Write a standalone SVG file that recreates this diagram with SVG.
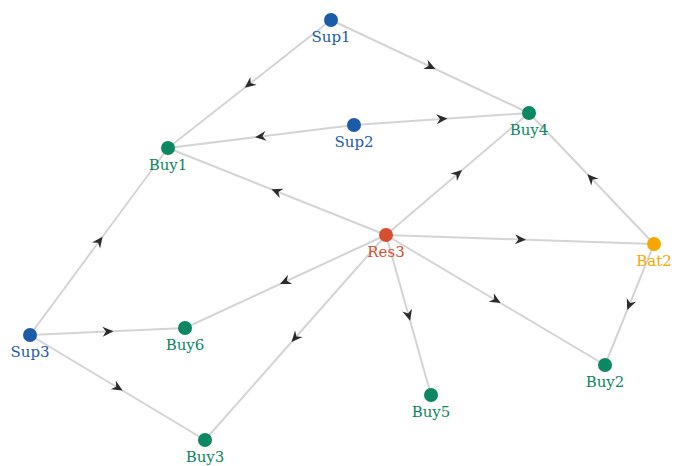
<svg xmlns="http://www.w3.org/2000/svg" width="681" height="466" viewBox="0 0 681 466">
<defs>
<marker id="arr" markerWidth="13" markerHeight="11" refX="5" refY="0" viewBox="-1 -5.5 13 11" orient="auto" markerUnits="userSpaceOnUse">
<path d="M0,-5 L11,0 L0,5 L3.5,0 Z" fill="#2b2b2b"/>
</marker>
</defs>
<style>
.e{fill:none;stroke:#d4d4d4;stroke-width:2;marker-mid:url(#arr)}
text{font-family:"DejaVu Serif","Liberation Serif",serif;font-size:15px;text-anchor:middle}
.sup circle{fill:#1c5ba8}.sup text{fill:#1c5ba8}
.buy circle{fill:#0b8763}.buy text{fill:#0b8763}
.res circle{fill:#d6502f}.res text{fill:#d6502f}
.bat circle{fill:#f7a800}.bat text{fill:#f7a800}
</style>
<rect width="681" height="466" fill="#ffffff"/>
<g id="edges">
<polyline class="e" points="331,20 249.5,84 168,148"/>
<polyline class="e" points="331,20 430,66.5 529,113"/>
<polyline class="e" points="354,125 261,136.5 168,148"/>
<polyline class="e" points="354,125 441.5,119 529,113"/>
<polyline class="e" points="386,235 277,191.5 168,148"/>
<polyline class="e" points="386,235 457.5,174 529,113"/>
<polyline class="e" points="386,235 520,239.5 654,244"/>
<polyline class="e" points="654,244 591.5,178.5 529,113"/>
<polyline class="e" points="654,244 629.5,304.5 605,365"/>
<polyline class="e" points="386,235 495.5,300 605,365"/>
<polyline class="e" points="386,235 408.5,315 431,395"/>
<polyline class="e" points="386,235 285.5,281.5 185,328"/>
<polyline class="e" points="386,235 295.5,337.5 205,440"/>
<polyline class="e" points="30,335 99,241.5 168,148"/>
<polyline class="e" points="30,335 107.5,331.5 185,328"/>
<polyline class="e" points="30,335 117.5,387.5 205,440"/>
</g>
<g id="Sup1" class="sup"><circle cx="331" cy="20" r="7"/><text x="331" y="42">Sup1</text></g>
<g id="Sup2" class="sup"><circle cx="354" cy="125" r="7"/><text x="354" y="147">Sup2</text></g>
<g id="Sup3" class="sup"><circle cx="30" cy="335" r="7"/><text x="30" y="357">Sup3</text></g>
<g id="Buy1" class="buy"><circle cx="168" cy="148" r="7"/><text x="168" y="170">Buy1</text></g>
<g id="Buy4" class="buy"><circle cx="529" cy="113" r="7"/><text x="529" y="135">Buy4</text></g>
<g id="Buy6" class="buy"><circle cx="185" cy="328" r="7"/><text x="185" y="350">Buy6</text></g>
<g id="Buy3" class="buy"><circle cx="205" cy="440" r="7"/><text x="205" y="462">Buy3</text></g>
<g id="Buy5" class="buy"><circle cx="431" cy="395" r="7"/><text x="431" y="417">Buy5</text></g>
<g id="Buy2" class="buy"><circle cx="605" cy="365" r="7"/><text x="605" y="387">Buy2</text></g>
<g id="Res3" class="res"><circle cx="386" cy="235" r="7"/><text x="386" y="257">Res3</text></g>
<g id="Bat2" class="bat"><circle cx="654" cy="244" r="7"/><text x="654" y="266">Bat2</text></g>
</svg>
